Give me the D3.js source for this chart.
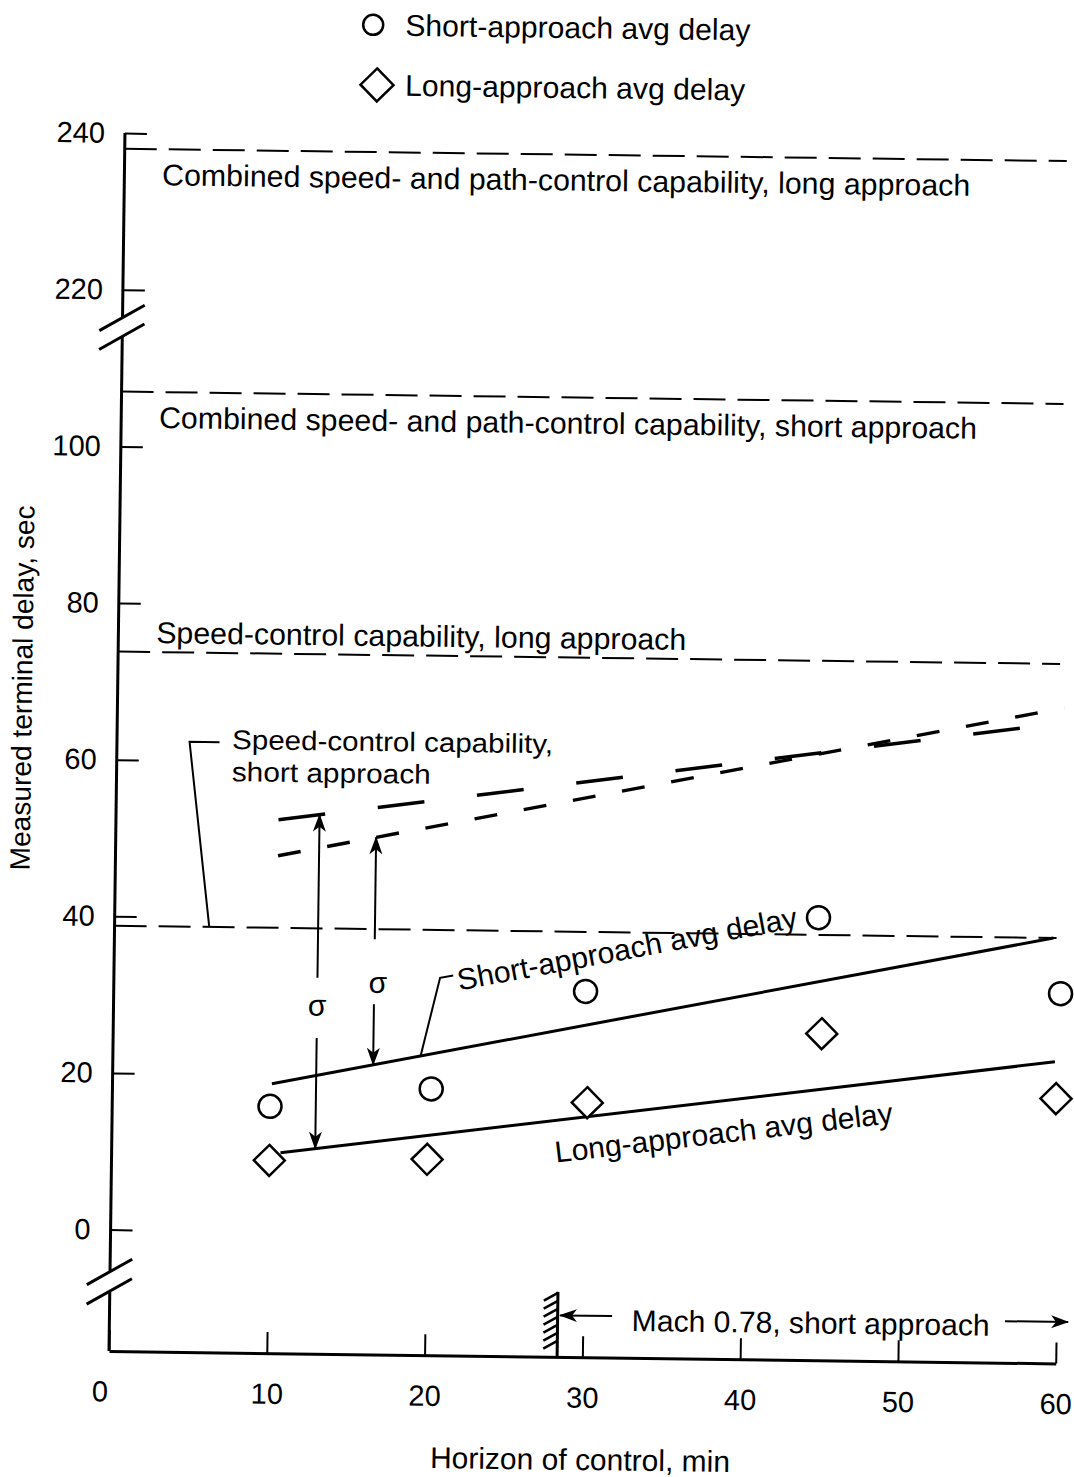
<!DOCTYPE html>
<html>
<head>
<meta charset="utf-8">
<script src="https://cdn.jsdelivr.net/npm/d3@7"></script>
<style>
  html, body { margin: 0; padding: 0; background: #fff; }
  svg { display: block; }
  text { font-family: "Liberation Sans", Arial, Helvetica, sans-serif; fill: #000; }
</style>
</head>
<body>
<svg id="chart" width="1074" height="1477"></svg>
<script>
// ---- data -------------------------------------------------------------
// Measured average delays (horizon of control in min, delay in sec)
const shortX     = [10, 20.2, 29.9, 44.6, 60];
const shortDelay = [16, 18.5, 31.2, 41.0, 31.7];
const longX      = [10, 20, 30.1, 44.9, 59.8];
const longDelay  = [9.1, 9.5, 17.0, 26.2, 18.3];

// Fitted average-delay lines, [horizon, delay] end points
const shortFit = [[10.1, 18.9], [59.5, 38.8]];
const longFit  = [[10.7, 10.1], [59.7, 23.0]];

// Speed-control capability, short approach, with sigma offsets
const sigmaLong  = [[10.3, 52.6], [60, 66.3]];
const sigmaShort = [[10.3, 48.0], [60, 68.2]];

// Capability levels (sec) drawn as horizontal dashed lines
const capabilityLevels = [238, 107, 73.8, 38.8];
const capabilityEnd = 59.7;
const capabilityLabels = [
  "Combined speed- and path-control capability, long approach",
  "Combined speed- and path-control capability, short approach",
  "Speed-control capability, long approach"
];

// Axis ticks
const xTicks = [0, 10, 20, 30, 40, 50, 60];
const yTicks = [0, 20, 40, 60, 80, 100, 220, 240];

// Mach 0.78 short-approach range
const machStart = 28.4;
const machEnd = 60.75;

// ---- scales -----------------------------------------------------------
const svg = d3.select("#chart");
const FONT = "'Liberation Sans', Arial, Helvetica, sans-serif";

// slight tilt of the whole drawing about the axis corner
const g = svg.append("g").attr("transform", "rotate(0.75,109,1351)");

const x = d3.scaleLinear().domain([0, 60]).range([109, 1055.8]);
// values above the upper break are shifted down by 100 s
const yLin = d3.scaleLinear().domain([-15.5, 140]).range([1351, 133]);
const disp = v => (v > 160 ? v - 100 : v);
const y = v => yLin(disp(v));
const line = d3.line().x(d => x(d[0])).y(d => y(d[1]));
const interp = (seg, xv) => seg[0][1] + (xv - seg[0][0]) / (seg[1][0] - seg[0][0]) * (seg[1][1] - seg[0][1]);

// arrowhead
const defs = svg.append("defs");
defs.append("marker")
  .attr("id", "head")
  .attr("viewBox", "0 -7 18 14")
  .attr("refX", 17).attr("refY", 0)
  .attr("markerWidth", 18).attr("markerHeight", 14)
  .attr("markerUnits", "userSpaceOnUse")
  .attr("orient", "auto")
  .append("path").attr("d", "M0,-6.5 L18,0 L0,6.5 L5,0 Z").attr("fill", "#000");

// ---- axes -------------------------------------------------------------
const xAxis = g.append("g")
  .attr("transform", `translate(0,${yLin(-15.5)})`)
  .call(d3.axisBottom(x).tickValues(xTicks).tickSizeInner(-21).tickSizeOuter(0).tickPadding(30))
  .attr("font-size", 29).attr("font-family", FONT);
xAxis.select(".domain").attr("stroke-width", 3);
xAxis.selectAll(".tick line").attr("stroke-width", 2);
xAxis.selectAll(".tick").filter(d => d === 0).select("text").attr("x", -9);

const yAxis = g.append("g")
  .attr("transform", `translate(${x(0)},0)`)
  .call(d3.axisLeft(yLin).tickValues(yTicks.map(disp))
    .tickFormat(d => (d > 110 ? d + 100 : d))
    .tickSizeInner(-22).tickSizeOuter(0).tickPadding(20))
  .attr("font-size", 29).attr("font-family", FONT);
yAxis.select(".domain").remove();
yAxis.selectAll(".tick line").attr("stroke-width", 2);

// vertical axis with two breaks
const yBreaks = [{ lo: 114, hi: 116.4 }, { lo: -7.9, hi: -5.4 }];
const ySegments = [[140, 116.4], [114, -5.4], [-7.9, -15.5]];
g.selectAll(".yseg").data(ySegments).join("line")
  .attr("x1", x(0)).attr("x2", x(0))
  .attr("y1", d => yLin(d[0])).attr("y2", d => yLin(d[1]))
  .attr("stroke", "#000").attr("stroke-width", 3);
const breakEnds = yBreaks.flatMap(b => [b.hi, b.lo]);
g.selectAll(".slash").data(breakEnds).join("line")
  .attr("x1", x(0) - 23).attr("y1", d => yLin(d) + 13)
  .attr("x2", x(0) + 22).attr("y2", d => yLin(d) - 13)
  .attr("stroke", "#000").attr("stroke-width", 3);

// ---- capability levels ------------------------------------------------
g.selectAll(".cap").data(capabilityLevels).join("path")
  .attr("d", v => line([[0, v], [capabilityEnd, v]]))
  .attr("fill", "none").attr("stroke", "#000").attr("stroke-width", 2)
  .attr("stroke-dasharray", "32,12");

const capLabelLayout = [
  { dy: 36, w: 808 },
  { dy: 36, w: 818 },
  { dy: -9, w: 530 }
];
g.selectAll(".caplabel").data(capabilityLabels).join("text")
  .attr("x", x(2.4))
  .attr("y", (d, i) => y(capabilityLevels[i]) + capLabelLayout[i].dy)
  .attr("font-size", 30)
  .attr("textLength", (d, i) => capLabelLayout[i].w)
  .attr("lengthAdjust", "spacingAndGlyphs")
  .text(d => d);

// two-line label and leader for the short-approach speed-control level
const speedShortLabel = g.append("text").attr("font-size", 27);
speedShortLabel.append("tspan").attr("x", x(7.3)).attr("y", y(61.55))
  .attr("textLength", 321).attr("lengthAdjust", "spacingAndGlyphs")
  .text("Speed-control capability,");
speedShortLabel.append("tspan").attr("x", x(7.3)).attr("y", y(57.45))
  .attr("textLength", 199).attr("lengthAdjust", "spacingAndGlyphs")
  .text("short approach");
g.append("path")
  .attr("d", line([[6.5, 62.4], [4.6, 62.4], [6.0, capabilityLevels[3]]]))
  .attr("fill", "none").attr("stroke", "#000").attr("stroke-width", 2);

// ---- sigma lines ------------------------------------------------------
g.append("path").attr("d", line(sigmaLong))
  .attr("fill", "none").attr("stroke", "#000").attr("stroke-width", 3.4)
  .attr("stroke-dasharray", "47,53");
g.append("path").attr("d", line(sigmaShort))
  .attr("fill", "none").attr("stroke", "#000").attr("stroke-width", 3.4)
  .attr("stroke-dasharray", "23,27");

// ---- fitted average lines ---------------------------------------------
[shortFit, longFit].forEach(seg => {
  g.append("path").attr("d", line(seg))
    .attr("fill", "none").attr("stroke", "#000").attr("stroke-width", 3);
});

const angleOf = seg => Math.atan2(y(seg[1][1]) - y(seg[0][1]), x(seg[1][0]) - x(seg[0][0])) * 180 / Math.PI;

// short-approach label with leader
g.append("path")
  .attr("d", line([[19.5, interp(shortFit, 19.5)], [20.67, 32.7], [21.5, 33.0]]))
  .attr("fill", "none").attr("stroke", "#000").attr("stroke-width", 2);
g.append("text")
  .attr("transform", `translate(${x(21.9)},${y(31.1)}) rotate(${angleOf(shortFit)})`)
  .attr("font-size", 30).attr("textLength", 345).attr("lengthAdjust", "spacingAndGlyphs")
  .text("Short-approach avg delay");

g.append("text")
  .attr("transform", `translate(${x(28.17)},${y(9.3)}) rotate(${angleOf(longFit)})`)
  .attr("font-size", 30).attr("textLength", 340).attr("lengthAdjust", "spacingAndGlyphs")
  .text("Long-approach avg delay");

// ---- sigma arrows -----------------------------------------------------
const sigmaArrows = [
  { x: 12.9, lower: longFit, upper: sigmaLong, gap: [24.8, 32.5], lx: 12.9, ly: 28.7 },
  { x: 16.5, lower: shortFit, upper: sigmaShort, gap: [29.2, 37.5], lx: 16.74, ly: 31.7 }
];
sigmaArrows.forEach(a => {
  g.append("line")
    .attr("x1", x(a.x)).attr("y1", y(a.gap[1]))
    .attr("x2", x(a.x)).attr("y2", y(interp(a.upper, a.x)))
    .attr("stroke", "#000").attr("stroke-width", 2).attr("marker-end", "url(#head)");
  g.append("line")
    .attr("x1", x(a.x)).attr("y1", y(a.gap[0]))
    .attr("x2", x(a.x)).attr("y2", y(interp(a.lower, a.x)))
    .attr("stroke", "#000").attr("stroke-width", 2).attr("marker-end", "url(#head)");
  g.append("text").attr("x", x(a.lx)).attr("y", y(a.ly)).attr("dy", "0.27em")
    .attr("text-anchor", "middle").attr("font-size", 30).text("σ");
});

// ---- data points ------------------------------------------------------
const diamond = r => `M0,${-r} L${r},0 L0,${r} L${-r},0 Z`;
g.selectAll(".sp").data(shortX.map((v, i) => [v, shortDelay[i]])).join("circle")
  .attr("cx", d => x(d[0])).attr("cy", d => y(d[1])).attr("r", 11.5)
  .attr("fill", "#fff").attr("stroke", "#000").attr("stroke-width", 2.5);
g.selectAll(".lp").data(longX.map((v, i) => [v, longDelay[i]])).join("path")
  .attr("transform", d => `translate(${x(d[0])},${y(d[1])})`)
  .attr("d", diamond(15.5))
  .attr("fill", "#fff").attr("stroke", "#000").attr("stroke-width", 2.5);

// ---- Mach 0.78 range --------------------------------------------------
const hx = x(machStart);
g.append("line").attr("x1", hx).attr("x2", hx).attr("y1", yLin(-15.5)).attr("y2", yLin(-7.2))
  .attr("stroke", "#000").attr("stroke-width", 3);
g.selectAll(".hatch").data(d3.range(7)).join("line")
  .attr("x1", hx - 14).attr("y1", i => yLin(-7.2) + 9 + i * 8)
  .attr("x2", hx).attr("y2", i => yLin(-7.2) + 1 + i * 8)
  .attr("stroke", "#000").attr("stroke-width", 2.5);
g.append("line").attr("x1", x(31.85)).attr("x2", x(machStart + 0.15))
  .attr("y1", yLin(-10.2)).attr("y2", yLin(-10.2))
  .attr("stroke", "#000").attr("stroke-width", 2).attr("marker-end", "url(#head)");
g.append("line").attr("x1", x(56.75)).attr("x2", x(machEnd))
  .attr("y1", yLin(-10.2)).attr("y2", yLin(-10.2))
  .attr("stroke", "#000").attr("stroke-width", 2).attr("marker-end", "url(#head)");
g.append("text").attr("x", x(33.1)).attr("y", yLin(-12.07)).attr("font-size", 30)
  .attr("textLength", 358).attr("lengthAdjust", "spacingAndGlyphs")
  .text("Mach 0.78, short approach");

// ---- axis titles ------------------------------------------------------
g.append("text").attr("x", 581.4).attr("y", 1463.8).attr("text-anchor", "middle")
  .attr("font-size", 30).attr("textLength", 300).attr("lengthAdjust", "spacingAndGlyphs")
  .text("Horizon of control, min");
g.append("text").attr("transform", "translate(23.3,689) rotate(-90)").attr("text-anchor", "middle")
  .attr("font-size", 28).attr("textLength", 365).attr("lengthAdjust", "spacingAndGlyphs")
  .text("Measured terminal delay, sec");

// ---- legend -----------------------------------------------------------
g.append("circle").attr("cx", 355.8).attr("cy", 21.5).attr("r", 10)
  .attr("fill", "#fff").attr("stroke", "#000").attr("stroke-width", 2.5);
g.append("text").attr("x", 388).attr("y", 32.1).attr("font-size", 30)
  .attr("textLength", 345).attr("lengthAdjust", "spacingAndGlyphs")
  .text("Short-approach avg delay");
g.append("path").attr("transform", "translate(360.4,81.5)").attr("d", diamond(16.5))
  .attr("fill", "#fff").attr("stroke", "#000").attr("stroke-width", 2.5);
g.append("text").attr("x", 388.6).attr("y", 92.1).attr("font-size", 30)
  .attr("textLength", 340).attr("lengthAdjust", "spacingAndGlyphs")
  .text("Long-approach avg delay");
</script>
</body>
</html>
